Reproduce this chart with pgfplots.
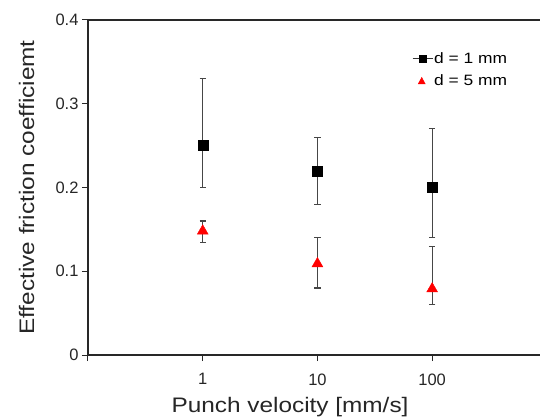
\documentclass[border=0pt]{standalone}
\usepackage{pgfplots}
\pgfplotsset{compat=1.18}
\usepackage{fontspec}
\setmainfont{Liberation Sans}
\definecolor{errgray}{RGB}{70,70,70}
\definecolor{axgray}{RGB}{40,40,40}
\begin{document}
\begin{tikzpicture}
\begin{axis}[
  scale only axis,
  width=452bp, height=335bp,
  xmin=0, xmax=3.94,
  ymin=0, ymax=0.4,
  axis x line*=box, axis y line*=left,
  axis line style={axgray, line width=1.3bp},
  xtick={0,1,2,3}, xticklabels={,1,10,100},
  ytick={0,0.1,0.2,0.3,0.4},
  yticklabels={0,0.1,0.2,0.3,0.4},
  xtick pos=bottom, ytick pos=left,
  tick align=outside,
  major tick length=6bp,
  every tick/.style={axgray, line width=1bp},
  tick label style={font=\fontsize{16.5bp}{19bp}\selectfont, text=black!85},
  /pgf/number format/assume math mode=true,
  xticklabel style={yshift=-9bp},
  xlabel={\scalebox{1.16}[1]{Punch velocity [mm/s]}},
  ylabel={\scalebox{1.16}[1]{Effective friction coefficiemt}},
  label style={font=\fontsize{21bp}{24bp}\selectfont, text=black!85},
  xlabel style={at={(axis description cs:0.447,0)}, anchor=center, yshift=-52bp},
  ylabel style={at={(axis description cs:-0.136,0.5)}, anchor=center},
  clip=false,
  legend style={draw=none, fill=none, at={(axis description cs:0.717,0.907)}, anchor=north west,
    font=\fontsize{15bp}{18bp}\selectfont, row sep=8bp, inner sep=0pt,
    nodes={inner sep=1bp},
    /tikz/every odd column/.append style={column sep=0bp}},
  legend cell align=left,
]
\addplot[only marks, mark=square*, mark size=5bp, black, forget plot,
  error bars/.cd, y dir=both, y explicit,
  error bar style={errgray, line width=1.1bp},
  error mark options={rotate=90, mark size=3.2bp, errgray, line width=1.1bp}]
  coordinates {
  (1,0.25) += (0,0.08) -= (0,0.05)
  (2,0.22) += (0,0.04) -= (0,0.04)
  (3,0.20) += (0,0.07) -= (0,0.06)
  };
\addplot[only marks, mark=triangle*, mark size=6.3bp, red, mark options={fill=red, draw=red}, forget plot,
  error bars/.cd, y dir=both, y explicit,
  error bar style={errgray, line width=1.1bp},
  error mark options={rotate=90, mark size=3.2bp, errgray, line width=1.1bp}]
  coordinates {
  (1,0.148) += (0,0.012) -= (0,0.0135)
  (2,0.109) += (0,0.031) -= (0,0.029)
  (3,0.079) += (0,0.051) -= (0,0.019)
  };
\addlegendimage{legend image code/.code={
  \draw[black!80, line width=0.9bp] (0bp,0bp) -- (20bp,0bp);
  \fill[black] (6.5bp,-3.5bp) rectangle (13.5bp,3.5bp);}}
\addlegendentry{\scalebox{1.16}[1]{d = 1 mm}}
\addlegendimage{legend image code/.code={
  \fill[red] (5.5bp,-3bp) -- (12.5bp,-3bp) -- (9bp,3.5bp) -- cycle;}}
\addlegendentry{\scalebox{1.16}[1]{d = 5 mm}}
\end{axis}
\pgfresetboundingbox
\path[use as bounding box] ([xshift=-88bp,yshift=-63bp]current axis.south west) rectangle ([yshift=20bp]current axis.north east);
\end{tikzpicture}
\end{document}
